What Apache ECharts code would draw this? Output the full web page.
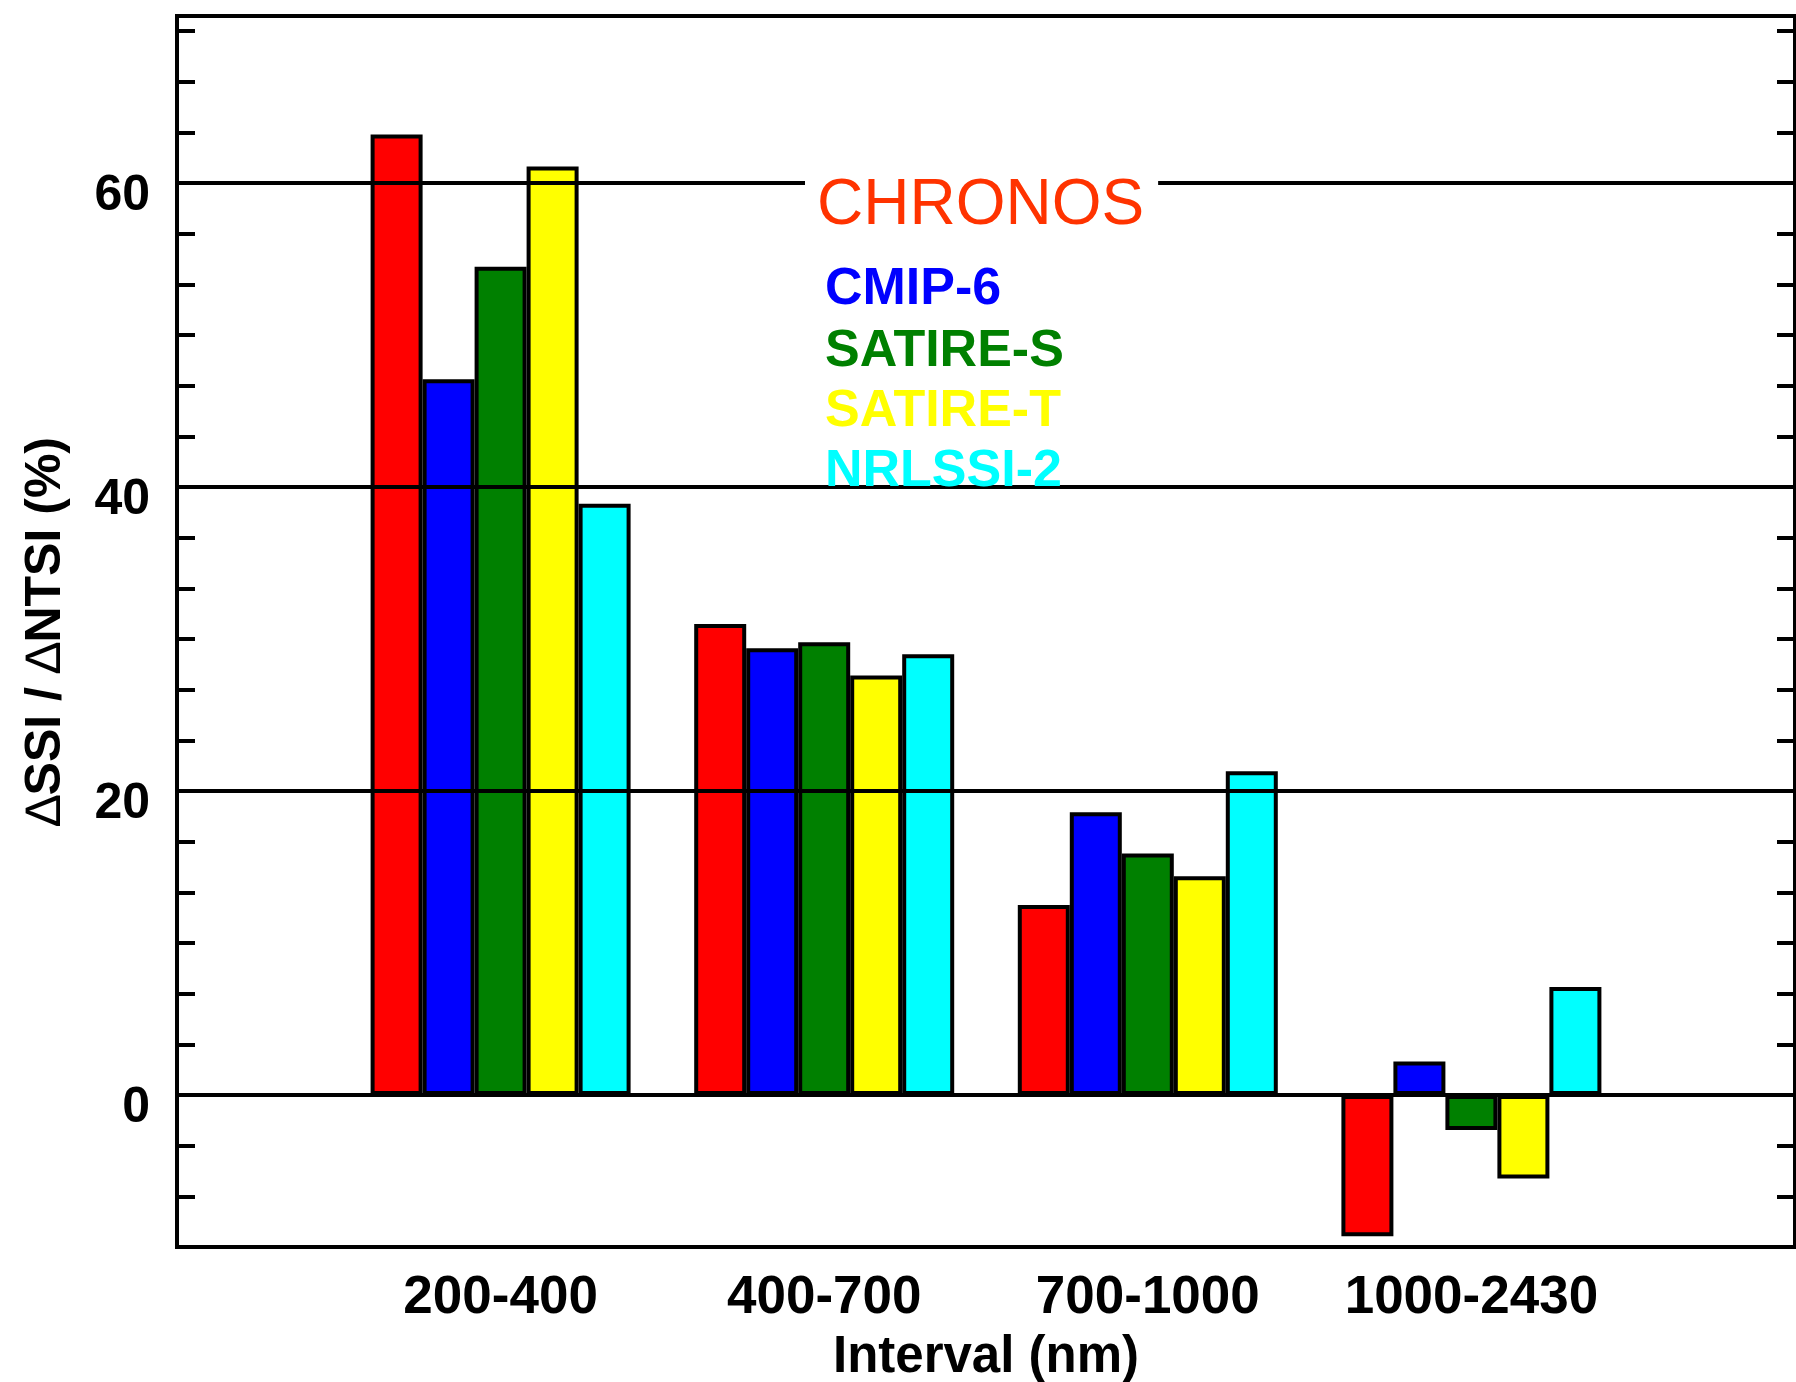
<!DOCTYPE html>
<html>
<head>
<meta charset="utf-8">
<script src="https://cdn.jsdelivr.net/npm/echarts@6/dist/echarts.min.js"></script>
<style>
html,body{margin:0;padding:0;background:#fff;}
#chart{width:1796px;height:1382px;}
</style>
</head>
<body>
<div id="chart"></div>
<script>
// ---- data ----
const categories = ['200-400', '400-700', '700-1000', '1000-2430'];
const seriesNames = ['CHRONOS', 'CMIP-6', 'SATIRE-S', 'SATIRE-T', 'NRLSSI-2'];
const chronos  = [63.2, 31.0, 12.5, -9.3];
const cmip6    = [47.1, 29.4, 18.6, 2.2];
const satireS  = [54.5, 29.8, 15.9, -2.3];
const satireT  = [61.1, 27.6, 14.4, -5.5];
const nrlssi2  = [38.9, 29.0, 21.3, 7.1];
const seriesColors = ['#ff0000', '#0000ff', '#008000', '#ffff00', '#00ffff'];
const legendColors = ['#ff3300', '#0000ff', '#008000', '#ffff00', '#00ffff'];
const gridValues = [0, 20, 40, 60];
const yMin = -10, yMax = 71, yMinor = 10 / 3, yLabelStep = 20;

// ---- chart ----
const FONT = '"Liberation Sans", Helvetica, Arial, sans-serif';
const xCats = [''].concat(categories, ['']);
const allValues = [chronos, cmip6, satireS, satireT, nrlssi2];

function isMajor(v) {
  const r = v / yLabelStep;
  return Math.abs(r - Math.round(r)) < 0.01;
}

const series = allValues.map((vals, i) => {
  const s = {
    name: seriesNames[i],
    type: 'bar',
    barWidth: 52,
    barGap: '0%',
    data: [null].concat(vals, [null]),
    itemStyle: { color: seriesColors[i], borderColor: '#000', borderWidth: 4 },
    animation: false
  };
  if (i === 0) {
    s.markLine = {
      silent: true,
      symbol: 'none',
      z: 5,
      label: { show: false },
      lineStyle: { color: '#000', width: 4, type: 'solid' },
      data: gridValues.map(v => ({ yAxis: v })),
      animation: false
    };
  }
  return s;
});

const legendY = [206, 290, 352, 412, 472];
const graphics = seriesNames.map((n, i) => ({
  type: 'text',
  z: 100,
  style: i === 0 ? {
    x: 805, y: legendY[i],
    text: n,
    fill: legendColors[i],
    font: 'normal 64px ' + FONT,
    verticalAlign: 'middle',
    backgroundColor: '#fff',
    padding: [4, 14, 4, 12]
  } : {
    x: 825, y: legendY[i],
    text: n,
    fill: legendColors[i],
    font: 'bold 52px ' + FONT,
    verticalAlign: 'middle'
  }
}));

const chart = echarts.init(document.getElementById('chart'), null, { renderer: 'canvas' });
chart.setOption({
  animation: false,
  backgroundColor: '#fff',
  grid: {
    left: 177, top: 16, right: 1, bottom: 135,
    containLabel: false,
    outerBoundsMode: 'none',
    show: true, borderColor: '#000', borderWidth: 4, backgroundColor: 'transparent'
  },
  xAxis: {
    type: 'category',
    data: xCats,
    boundaryGap: false,
    axisLine: { show: false },
    axisTick: { show: false },
    splitLine: { show: false },
    axisLabel: {
      interval: 0,
      margin: 25,
      color: '#000',
      fontFamily: FONT,
      fontWeight: 'bold',
      fontSize: 53
    },
    name: 'Interval (nm)',
    nameLocation: 'middle',
    nameGap: 85,
    nameTextStyle: { color: '#000', fontFamily: FONT, fontWeight: 'bold', fontSize: 51 }
  },
  yAxis: [{
    type: 'value',
    min: yMin, max: yMax, interval: yMinor,
    position: 'left',
    axisLine: { show: false },
    axisTick: { show: true, inside: true, length: 18, lineStyle: { color: '#000', width: 4 } },
    splitLine: { show: false },
    axisLabel: {
      margin: 27,
      color: '#000',
      fontFamily: FONT,
      fontWeight: 'bold',
      fontSize: 50,
      verticalAlign: 'top',
      lineHeight: 27,
      showMaxLabel: false,
      formatter: v => isMajor(v) ? String(Math.round(v)) : ''
    },
    name: '{d|\u2206}SSI / {d|\u2206}NTSI (%)',
    nameLocation: 'middle',
    nameGap: 106,
    nameTextStyle: {
      color: '#000', fontFamily: FONT, fontWeight: 'bold', fontSize: 50,
      rich: { d: { color: '#000', fontFamily: FONT, fontWeight: 'normal', fontSize: 50 } }
    }
  }, {
    type: 'value',
    min: yMin, max: yMax, interval: yMinor,
    position: 'right',
    axisLine: { show: false },
    axisTick: { show: true, inside: true, length: 18, lineStyle: { color: '#000', width: 4 } },
    splitLine: { show: false },
    axisLabel: { show: false }
  }],
  series: series,
  graphic: graphics
});
</script>
</body>
</html>
